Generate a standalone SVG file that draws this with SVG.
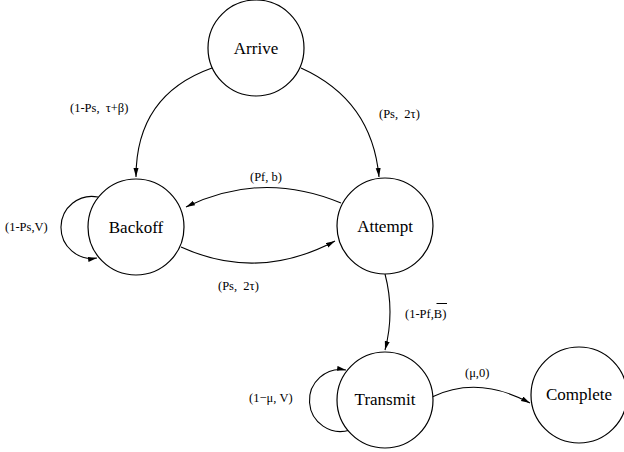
<svg xmlns="http://www.w3.org/2000/svg" width="624" height="452" viewBox="0 0 624 452">
<style>
.node{fill:#fff;stroke:#000;stroke-width:1.2}
.nt{font-family:'Liberation Serif','Times New Roman',Times,'DejaVu Serif',serif;font-size:17px;text-anchor:middle;fill:#000}
.el{font-family:'Liberation Serif','Times New Roman',Times,'DejaVu Serif',serif;font-size:12.5px;fill:#000;white-space:pre}
.edge{fill:none;stroke:#000;stroke-width:1.1;marker-end:url(#ah)}
</style>
<defs>
<marker id="ah" markerUnits="userSpaceOnUse" markerWidth="10" markerHeight="6" refX="9" refY="2.5" orient="auto">
<path d="M0,0 L9,2.5 L0,5 z" fill="#000"/>
</marker>
</defs>
<rect width="624" height="452" fill="#fff"/>
<g id="connectors">
<path class="edge" d="M212,68 Q136,95 136,177"/>
<path class="edge" d="M301,68 Q372,100 379,177"/>
<path class="edge" d="M341,203 Q262,170 186,207"/>
<path class="edge" d="M181,247 Q258,282 335,241"/>
<path class="edge" d="M385,274 Q395,312 385,350"/>
<path class="edge" d="M432,397 Q478,375 530,403"/>
<path class="edge" d="M98,197 A31,31 0 1 0 97,258"/>
<path class="edge" d="M350,430 A31,31 0 1 1 346,370"/>
<text class="el" x="70" y="112" xml:space="preserve">(1-Ps,  τ+β)</text>
<text class="el" x="379" y="118" xml:space="preserve">(Ps,  2τ)</text>
<text class="el" x="250" y="181">(Pf, b)</text>
<text class="el" x="218" y="290" xml:space="preserve">(Ps,  2τ)</text>
<text class="el" x="5" y="231">(1-Ps,V)</text>
<text class="el" x="405" y="318">(1-Pf,B)</text>
<line x1="436.5" y1="303.5" x2="447" y2="303.5" stroke="#000" stroke-width="1"/>
<text class="el" x="249" y="402">(1−μ, V)</text>
<text class="el" x="465" y="377">(μ,0)</text>
</g>
<g id="arrive"><circle class="node" cx="256" cy="48" r="48"/><text class="nt" x="256" y="54">Arrive</text></g>
<g id="backoff"><circle class="node" cx="136" cy="227" r="48"/><text class="nt" x="136" y="233">Backoff</text></g>
<g id="attempt"><circle class="node" cx="385" cy="226" r="48"/><text class="nt" x="385" y="232">Attempt</text></g>
<g id="transmit"><circle class="node" cx="385" cy="400" r="48"/><text class="nt" x="385" y="405">Transmit</text></g>
<g id="complete"><circle class="node" cx="579" cy="395" r="48"/><text class="nt" x="579" y="400">Complete</text></g>
</svg>
